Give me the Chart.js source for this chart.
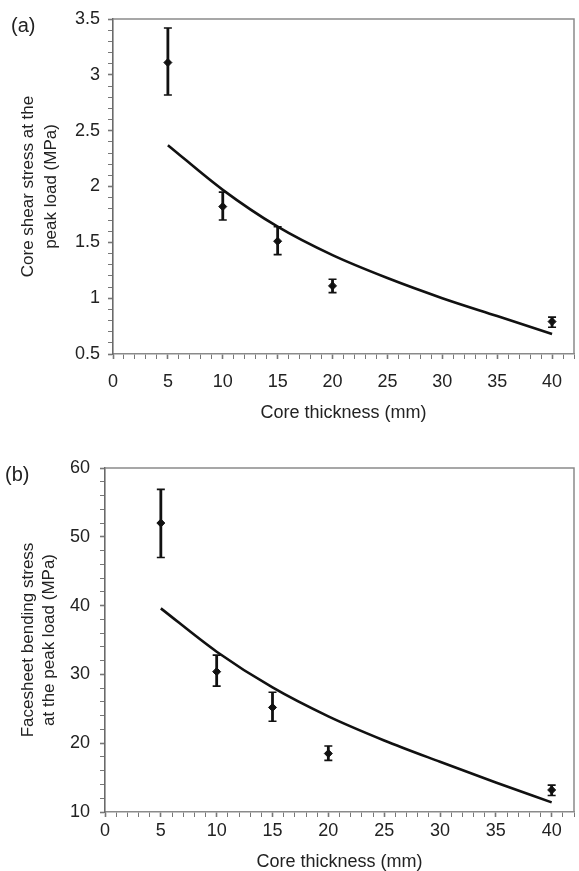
<!DOCTYPE html>
<html><head><meta charset="utf-8">
<script src="https://cdn.jsdelivr.net/npm/chart.js@4/dist/chart.umd.min.js"></script>
<style>
html,body{margin:0;padding:0;background:#fff;}
body{width:579px;height:871px;position:relative;overflow:hidden;font-family:"Liberation Sans",Arial,sans-serif;}
.box{position:absolute;left:0;width:579px;}
#boxA{top:0;height:430px;}
#boxB{top:430px;height:441px;}
.lab{position:absolute;font-size:20px;color:#222;line-height:1;}
</style></head><body>
<div id="boxA" class="box"><canvas id="cA"></canvas></div>
<div id="boxB" class="box"><canvas id="cB"></canvas></div>
<div class="lab" style="left:11px;top:15px">(a)</div>
<div class="lab" style="left:5px;top:464px">(b)</div>
<script>
// ---- data (a) ----
const thicknessA = [5, 10, 15, 20, 40];
const shearMean  = [3.11, 1.82, 1.51, 1.11, 0.79];
const shearLow   = [2.82, 1.70, 1.39, 1.05, 0.74];
const shearHigh  = [3.42, 1.95, 1.64, 1.17, 0.83];
const modelX     = [5, 10, 15, 20, 25, 30, 35, 40];
const shearModel = [2.37, 1.97, 1.64, 1.385, 1.18, 1.00, 0.84, 0.68];

// ---- data (b) ----
const thicknessB = [5, 10, 15, 20, 40];
const bendMean   = [52.0, 30.4, 25.2, 18.5, 13.2];
const bendLow    = [47.0, 28.3, 23.2, 17.5, 12.4];
const bendHigh   = [56.9, 32.8, 27.4, 19.6, 13.9];
const bendModel  = [39.6, 33.3, 28.1, 23.9, 20.4, 17.3, 14.3, 11.4];

// ---- tick labels ----
const xTickLabels  = ['0', '5', '10', '15', '20', '25', '30', '35', '40'];
const yTickLabelsA = ['0.5', '1', '1.5', '2', '2.5', '3', '3.5'];
const yTickLabelsB = ['10', '20', '30', '40', '50', '60'];

const TXT = '#222';
const AXC = '#8a8a8a';
const FONT = '"Liberation Sans", Arial, sans-serif';

function pts(xs, ys) { return xs.map((x, i) => ({x: x, y: ys[i]})); }
function stepTicks(min, max, step) {
  const out = [];
  const n = Math.round((max - min) / step);
  for (let i = 0; i <= n; i++) out.push({value: +(min + i * step).toFixed(6)});
  return out;
}

const frame = {
  id: 'frame',
  afterDraw(chart) {
    const a = chart.chartArea, ctx = chart.ctx;
    ctx.save();
    ctx.strokeStyle = AXC; ctx.lineWidth = 1.5;
    ctx.beginPath();
    ctx.moveTo(a.left, a.top); ctx.lineTo(a.right, a.top); ctx.lineTo(a.right, a.bottom);
    ctx.stroke();
    ctx.restore();
  }
};
const errorBars = {
  id: 'errorBars',
  afterDatasetsDraw(chart, args, o) {
    const xs = chart.scales.x, ys = chart.scales.y, ctx = chart.ctx;
    ctx.save();
    ctx.strokeStyle = '#111';
    o.xs.forEach((xv, i) => {
      const px = xs.getPixelForValue(xv);
      const lo = ys.getPixelForValue(o.low[i]);
      const hi = ys.getPixelForValue(o.high[i]);
      ctx.lineWidth = 2.8;
      ctx.beginPath(); ctx.moveTo(px, lo); ctx.lineTo(px, hi); ctx.stroke();
      ctx.lineWidth = 1.6;
      ctx.beginPath();
      ctx.moveTo(px - 4, lo); ctx.lineTo(px + 4, lo);
      ctx.moveTo(px - 4, hi); ctx.lineTo(px + 4, hi);
      ctx.stroke();
    });
    ctx.restore();
  }
};

function makeChart(id, cfg) {
  return new Chart(document.getElementById(id), {
    type: 'scatter',
    data: {
      datasets: [
        {data: pts(modelX, cfg.model), showLine: true, borderColor: '#111', borderWidth: 2.6,
         pointRadius: 0, cubicInterpolationMode: 'monotone', fill: false},
        {data: pts(cfg.xs, cfg.mean), pointStyle: 'rectRot', pointRadius: 4,
         backgroundColor: '#111', borderColor: '#111', showLine: false}
      ]
    },
    plugins: [frame, errorBars],
    options: {
      responsive: true, maintainAspectRatio: false, animation: false,
      layout: {padding: {top: cfg.padTop, right: 2, left: 0, bottom: 0}},
      plugins: {
        legend: {display: false}, tooltip: {enabled: false},
        errorBars: {xs: cfg.xs, low: cfg.low, high: cfg.high}
      },
      scales: {
        x: {
          type: 'linear', min: 0, max: 42,
          afterBuildTicks: s => { s.ticks = stepTicks(0, 42, 1); },
          afterFit: s => { s.height = cfg.xHeight; s.paddingRight = 0; s.paddingLeft = 0; },
          ticks: {
            autoSkip: false, maxRotation: 0, color: TXT, padding: cfg.xPad,
            font: {family: FONT, size: 18},
            callback: v => (v % 5 === 0 && v <= 40) ? xTickLabels[v / 5] : ''
          },
          grid: {drawOnChartArea: false, drawTicks: true, tickLength: 5, tickColor: '#777',
                 tickWidth: c => (c.tick && c.tick.value % 5 === 0) ? 1.6 : 1},
          border: {color: AXC, width: 1.5},
          title: {display: true, text: 'Core thickness (mm)', color: TXT,
                  font: {family: FONT, size: 18, lineHeight: cfg.xTitleLH}, padding: {top: 0, bottom: cfg.xTitlePad}}
        },
        y: {
          type: 'linear', min: cfg.yMin, max: cfg.yMax,
          afterBuildTicks: s => { s.ticks = stepTicks(cfg.yMin, cfg.yMax, cfg.yMinor); },
          afterFit: s => { s.width = cfg.yWidth; },
          ticks: {
            autoSkip: false, color: TXT, padding: cfg.yPad,
            font: {family: FONT, size: 18},
            callback: v => {
              const k = (v - cfg.yMin) / cfg.yMajor;
              const r = Math.round(k);
              return Math.abs(k - r) < 1e-6 ? cfg.yLabels[r] : '';
            }
          },
          grid: {drawOnChartArea: false, drawTicks: true, tickLength: 5, tickColor: '#777',
                 tickWidth: c => {
                   if (!c.tick) return 1;
                   const k = (c.tick.value - cfg.yMin) / cfg.yMajor;
                   return Math.abs(k - Math.round(k)) < 1e-6 ? 1.6 : 1;
                 }},
          border: {color: '#6a6a6a', width: 1.6},
          title: {display: true, text: cfg.yTitle, color: TXT,
                  font: {family: FONT, size: 17, lineHeight: cfg.yTitleLH}, padding: {top: cfg.yTitlePad, bottom: 0}}
        }
      }
    }
  });
}

makeChart('cA', {
  xs: thicknessA, mean: shearMean, low: shearLow, high: shearHigh, model: shearModel,
  padTop: 19, xHeight: 76, xPad: 12, xTitleLH: 1.2, xTitlePad: 6,
  yMin: 0.5, yMax: 3.5, yMinor: 0.1, yMajor: 0.5, yLabels: yTickLabelsA,
  yWidth: 113, yPad: 8, yTitleLH: 1.35, yTitlePad: 17,
  yTitle: ['Core shear stress at the', 'peak load (MPa)']
});
makeChart('cB', {
  xs: thicknessB, mean: bendMean, low: bendLow, high: bendHigh, model: bendModel,
  padTop: 38, xHeight: 59, xPad: 3, xTitleLH: 1.0, xTitlePad: 0,
  yMin: 10, yMax: 60, yMinor: 2, yMajor: 10, yLabels: yTickLabelsB,
  yWidth: 105, yPad: 10, yTitleLH: 1.24, yTitlePad: 18,
  yTitle: ['Facesheet bending stress', 'at the peak load (MPa)']
});
</script>
</body></html>
